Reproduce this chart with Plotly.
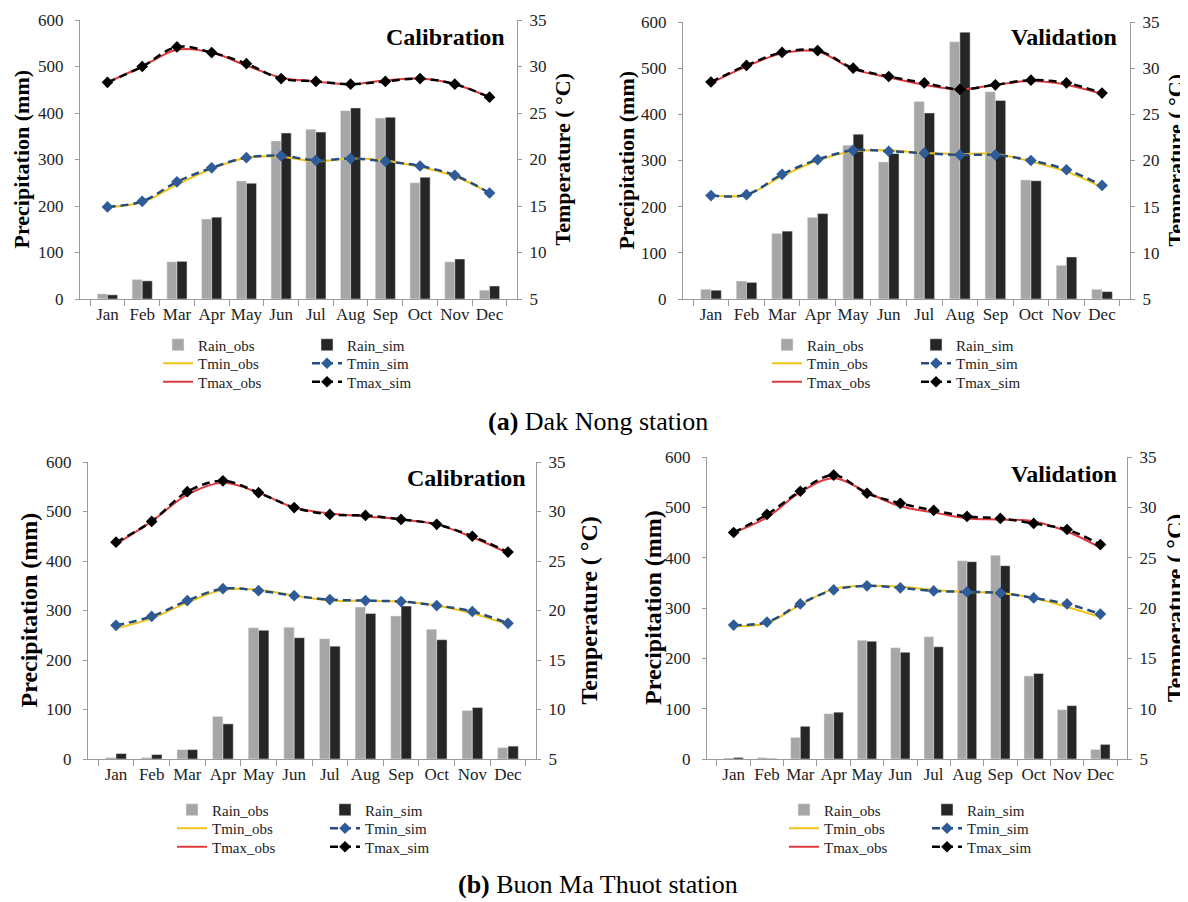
import plotly.graph_objects as go

# The page places the figure 8 px from the top-left corner of the window,
# so the figure is sized to fill the rest of the 1188x902 window exactly.
OFF = 8
W, H = 1188 - OFF, 902 - OFF

months = ["Jan", "Feb", "Mar", "Apr", "May", "Jun", "Jul", "Aug", "Sep", "Oct", "Nov", "Dec"]

# (a) Dak Nong - Calibration
dn_cal_rain_obs = [11, 42, 80, 172, 254, 340, 365, 405, 389, 250, 80, 19]
dn_cal_rain_sim = [9, 39, 81, 176, 249, 357, 359, 411, 391, 262, 86, 28]
dn_cal_tmin_obs = [14.9, 15.4, 17.3, 19.0, 20.2, 20.3, 19.8, 20.1, 19.9, 19.2, 18.2, 16.4]
dn_cal_tmin_sim = [14.9, 15.5, 17.6, 19.1, 20.2, 20.4, 19.9, 20.1, 19.8, 19.3, 18.3, 16.4]
dn_cal_tmax_obs = [28.3, 30.0, 31.8, 31.5, 30.1, 28.8, 28.4, 28.1, 28.5, 28.7, 28.1, 26.7]
dn_cal_tmax_sim = [28.3, 30.0, 32.1, 31.5, 30.3, 28.7, 28.4, 28.1, 28.4, 28.7, 28.1, 26.7]

# (a) Dak Nong - Validation
dn_val_rain_obs = [21, 39, 142, 177, 333, 297, 428, 557, 449, 258, 73, 21]
dn_val_rain_sim = [19, 36, 147, 185, 357, 315, 403, 578, 430, 256, 91, 16]
dn_val_tmin_obs = [16.2, 16.3, 18.3, 20.0, 21.0, 21.1, 20.8, 20.7, 20.7, 19.9, 18.8, 17.1]
dn_val_tmin_sim = [16.2, 16.3, 18.5, 20.1, 21.1, 21.0, 20.8, 20.6, 20.6, 20.0, 19.0, 17.3]
dn_val_tmax_obs = [28.4, 30.2, 31.6, 31.8, 29.9, 29.0, 28.2, 27.7, 28.2, 28.6, 28.2, 27.2]
dn_val_tmax_sim = [28.5, 30.3, 31.7, 31.9, 30.0, 29.1, 28.4, 27.7, 28.2, 28.7, 28.4, 27.3]

# (b) Buon Ma Thuot - Calibration
bmt_cal_rain_obs = [3, 3, 19, 86, 265, 266, 243, 307, 289, 262, 98, 23]
bmt_cal_rain_sim = [11, 9, 19, 71, 260, 245, 228, 294, 309, 241, 104, 26]
bmt_cal_tmin_obs = [18.2, 19.2, 20.8, 22.1, 22.1, 21.5, 21.0, 21.0, 20.9, 20.5, 19.7, 18.6]
bmt_cal_tmin_sim = [18.5, 19.4, 21.0, 22.2, 22.0, 21.5, 21.1, 21.0, 20.9, 20.5, 19.9, 18.7]
bmt_cal_tmax_obs = [26.7, 29.0, 31.7, 32.9, 31.9, 30.4, 29.8, 29.5, 29.2, 28.7, 27.4, 25.8]
bmt_cal_tmax_sim = [26.9, 29.0, 32.0, 33.1, 31.9, 30.4, 29.7, 29.6, 29.2, 28.7, 27.5, 25.9]

# (b) Buon Ma Thuot - Validation
bmt_val_rain_obs = [2, 3, 43, 90, 236, 221, 243, 394, 405, 165, 98, 19]
bmt_val_rain_sim = [3, 1, 65, 93, 234, 212, 223, 392, 384, 170, 106, 29]
bmt_val_tmin_obs = [18.2, 18.5, 20.3, 21.9, 22.2, 22.1, 21.8, 21.6, 21.5, 21.0, 20.1, 19.1]
bmt_val_tmin_sim = [18.3, 18.6, 20.4, 21.8, 22.2, 22.0, 21.7, 21.6, 21.5, 21.0, 20.4, 19.4]
bmt_val_tmax_obs = [27.5, 29.0, 31.5, 32.9, 31.5, 30.1, 29.5, 28.9, 28.8, 28.6, 27.6, 26.0]
bmt_val_tmax_sim = [27.5, 29.3, 31.6, 33.2, 31.4, 30.4, 29.7, 29.1, 28.9, 28.4, 27.8, 26.3]

panel_labels = ["Calibration", "Validation", "Calibration", "Validation"]
station_titles = ["<b>(a)</b> Dak Nong station", "<b>(b)</b> Buon Ma Thuot station"]
y_title = "Precipitation (mm)"
y2_title = "Temperature ( °C)"

FONT = "Liberation Serif"
C_OBS = "#a6a6a6"
C_SIM = "#262626"
C_TMIN_OBS = "#f0c419"
C_TMIN_SIM = "#264d80"
C_TMIN_MARK = "#2f5c99"
C_TMAX_OBS = "#e0393e"
C_TMAX_SIM = "#000000"
AX = "#9a9a9a"
DASH = "8px,5px"


def px(x):
    return (x - OFF) / W


def py(y):
    return 1 - (y - OFF) / H


panels = [
    dict(data=(dn_cal_rain_obs, dn_cal_rain_sim, dn_cal_tmin_obs, dn_cal_tmin_sim, dn_cal_tmax_obs, dn_cal_tmax_sim),
         box=(80, 517, 20, 299), label_xy=(507, 37), ytx=21, y2tx=562, tsize=22,
         leg_x=170, leg_dx=149, leg_y=(345, 363.5, 382)),
    dict(data=(dn_val_rain_obs, dn_val_rain_sim, dn_val_tmin_obs, dn_val_tmin_sim, dn_val_tmax_obs, dn_val_tmax_sim),
         box=(683, 1130, 22, 299), label_xy=(1119, 37), ytx=626, y2tx=1175, tsize=22,
         leg_x=779, leg_dx=149, leg_y=(345, 363.5, 382)),
    dict(data=(bmt_cal_rain_obs, bmt_cal_rain_sim, bmt_cal_tmin_obs, bmt_cal_tmin_sim, bmt_cal_tmax_obs, bmt_cal_tmax_sim),
         box=(88, 536, 462, 759), label_xy=(528, 478), ytx=28, y2tx=588, tsize=24,
         leg_x=184, leg_dx=153, leg_y=(810, 828.5, 847)),
    dict(data=(bmt_val_rain_obs, bmt_val_rain_sim, bmt_val_tmin_obs, bmt_val_tmin_sim, bmt_val_tmax_obs, bmt_val_tmax_sim),
         box=(707, 1127, 457, 759), label_xy=(1119, 474), ytx=653, y2tx=1175, tsize=24,
         leg_x=796, leg_dx=143, leg_y=(810, 828.5, 847)),
]

fig = go.Figure()
layout = dict(
    width=W, height=H, margin=dict(l=0, r=0, t=0, b=0, autoexpand=False),
    paper_bgcolor="white", plot_bgcolor="white",
    barmode="group", bargap=0.42, bargroupgap=0.0,
    font=dict(family=FONT, color="#222222"),
)
annotations = []

for i, p in enumerate(panels):
    xa = "x" if i == 0 else f"x{i + 1}"
    ya = f"y{2 * i + 1}" if i > 0 else "y"
    yb = f"y{2 * i + 2}"
    xkey = "xaxis" if i == 0 else f"xaxis{i + 1}"
    ykey = "yaxis" if i == 0 else f"yaxis{2 * i + 1}"
    y2key = f"yaxis{2 * i + 2}"
    x0, x1, t0, t1 = p["box"]
    rain_obs, rain_sim, tmin_obs, tmin_sim, tmax_obs, tmax_sim = p["data"]
    legs = []
    for r in range(3):
        n = i * 3 + r + 1
        legs.append("legend" if n == 1 else f"legend{n}")

    fig.add_trace(go.Bar(x=months, y=rain_obs, name="Rain_obs", marker_color=C_OBS,
                         xaxis=xa, yaxis=ya, legend=legs[0]))
    fig.add_trace(go.Bar(x=months, y=rain_sim, name="Rain_sim", marker_color=C_SIM,
                         xaxis=xa, yaxis=ya, legend=legs[0]))
    fig.add_trace(go.Scatter(x=months, y=tmin_obs, name="Tmin_obs", mode="lines",
                             line=dict(color=C_TMIN_OBS, width=2, shape="spline"),
                             xaxis=xa, yaxis=yb, legend=legs[1]))
    fig.add_trace(go.Scatter(x=months, y=tmin_sim, name="Tmin_sim", mode="lines+markers",
                             line=dict(color=C_TMIN_SIM, width=2.5, dash=DASH, shape="spline"),
                             marker=dict(symbol="diamond", size=9, color=C_TMIN_MARK),
                             xaxis=xa, yaxis=yb, legend=legs[1]))
    fig.add_trace(go.Scatter(x=months, y=tmax_obs, name="Tmax_obs", mode="lines",
                             line=dict(color=C_TMAX_OBS, width=2, shape="spline"),
                             xaxis=xa, yaxis=yb, legend=legs[2]))
    fig.add_trace(go.Scatter(x=months, y=tmax_sim, name="Tmax_sim", mode="lines+markers",
                             line=dict(color=C_TMAX_SIM, width=2.5, dash=DASH, shape="spline"),
                             marker=dict(symbol="diamond", size=9, color=C_TMAX_SIM),
                             xaxis=xa, yaxis=yb, legend=legs[2]))

    layout[xkey] = dict(domain=[px(x0), px(x1)], anchor=ya, type="category", automargin=False,
                        showline=True, linecolor=AX, linewidth=1, tickangle=0,
                        ticks="outside", tickson="boundaries", ticklen=6, tickcolor=AX,
                        tickfont=dict(size=17, family=FONT, color="#222222"),
                        showgrid=False, zeroline=False, fixedrange=True)
    layout[ykey] = dict(domain=[py(t1), py(t0)], anchor=xa, range=[0, 600], dtick=100,
                        automargin=False, showline=True, linecolor=AX, linewidth=1,
                        ticks="outside", ticklen=4, tickcolor=AX, ticklabelstandoff=8,
                        tickfont=dict(size=17, family=FONT, color="#222222"),
                        showgrid=False, zeroline=False)
    layout[y2key] = dict(overlaying=ya, anchor=xa, side="right", range=[5, 35], dtick=5,
                         automargin=False, showline=True, linecolor=AX, linewidth=1,
                         ticks="outside", ticklen=4, tickcolor=AX, ticklabelstandoff=4,
                         tickfont=dict(size=17, family=FONT, color="#222222"),
                         showgrid=False, zeroline=False)

    for r in range(3):
        layout[legs[r]] = dict(orientation="h", x=px(p["leg_x"] - 12), y=py(p["leg_y"][r]),
                               xanchor="left", yanchor="middle",
                               entrywidth=p["leg_dx"] - 45, entrywidthmode="pixels",
                               itemwidth=30, bgcolor="rgba(0,0,0,0)", borderwidth=0,
                               font=dict(size=15, family=FONT, color="#222222"),
                               traceorder="normal")

    lx, lyy = p["label_xy"]
    annotations.append(dict(text=f"<b>{panel_labels[i]}</b>", x=px(lx), y=py(lyy),
                            xref="paper", yref="paper", xanchor="right", yanchor="middle",
                            showarrow=False, font=dict(size=24, family=FONT, color="#000000")))
    cy = (t0 + t1) / 2
    annotations.append(dict(text=f"<b>{y_title}</b>", x=px(p["ytx"]), y=py(cy),
                            xref="paper", yref="paper", xanchor="center", yanchor="middle",
                            textangle=-90, showarrow=False,
                            font=dict(size=p["tsize"], family=FONT, color="#000000")))
    annotations.append(dict(text=f"<b>{y2_title}</b>", x=px(p["y2tx"]), y=py(cy),
                            xref="paper", yref="paper", xanchor="center", yanchor="middle",
                            textangle=-90, showarrow=False,
                            font=dict(size=p["tsize"], family=FONT, color="#000000")))

annotations.append(dict(text=station_titles[0], x=px(598), y=py(421), xref="paper", yref="paper",
                        xanchor="center", yanchor="middle", showarrow=False,
                        font=dict(size=26, family=FONT, color="#000000")))
annotations.append(dict(text=station_titles[1], x=px(598), y=py(884), xref="paper", yref="paper",
                        xanchor="center", yanchor="middle", showarrow=False,
                        font=dict(size=26, family=FONT, color="#000000")))

layout["annotations"] = annotations
fig.update_layout(**layout)
fig.write_html("out.html")
